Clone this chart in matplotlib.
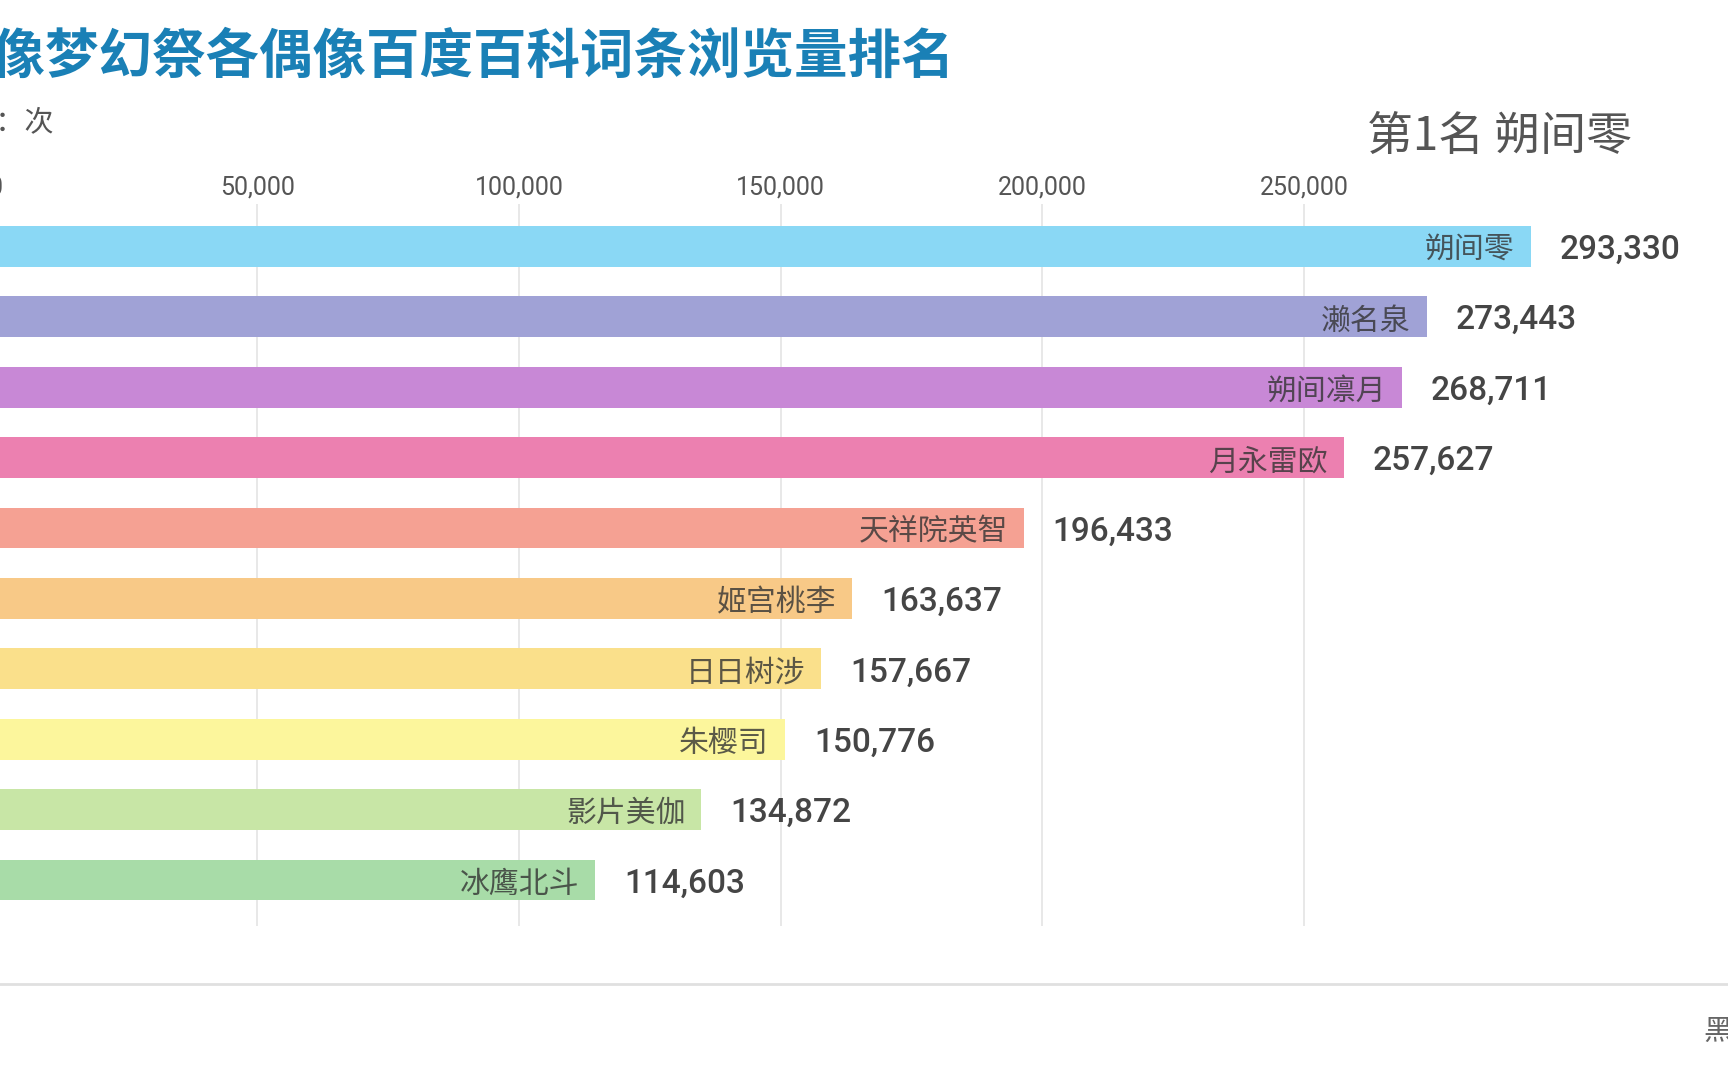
import numpy as np
import matplotlib
matplotlib.use("Agg")
import matplotlib.pyplot as plt
from matplotlib.lines import Line2D

names = ["朔间零", "濑名泉", "朔间凛月", "月永雷欧", "天祥院英智",
         "姬宫桃李", "日日树涉", "朱樱司", "影片美伽", "冰鹰北斗"]
views = [293330, 273443, 268711, 257627, 196433,
         163637, 157667, 150776, 134872, 114603]
tick_values = [0, 50000, 100000, 150000, 200000, 250000]
tick_labels = [f"{v:,}" for v in tick_values]
title = "偶像梦幻祭各偶像百度百科词条浏览量排名"
unit = "单位：次"
footer = "黑"

bar_colors = ["#8ad8f5", "#a0a2d6", "#c888d6", "#ec80b0", "#f5a193",
              "#f8c987", "#fae08b", "#fcf69c", "#c8e6a6", "#a8dca8"]

W, H = 1728, 1080


def main():
    plt.rcParams['font.family'] = ['Noto Sans CJK SC', 'DejaVu Sans']
    fig = plt.figure(figsize=(W / 100, H / 100), dpi=100)
    fig.patch.set_facecolor("white")

    # the frame is cropped: x=0 sits just left of the picture edge
    x0_px = -4.4
    px_per_unit = 261.67 / 50000
    xmax = 330000
    top_px, bot_px = 204, 926
    ax = fig.add_axes([x0_px / W, 1 - bot_px / H,
                       xmax * px_per_unit / W, (bot_px - top_px) / H])

    y = np.arange(len(names))
    ax.barh(y, views, height=0.58, color=bar_colors, zorder=2)
    ax.set_xlim(0, xmax)
    ax.set_ylim(9.653, -0.602)

    for i, (name, v) in enumerate(zip(names, views)):
        ax.annotate(name, (v, i), xytext=(-11.5, -3), textcoords="offset points",
                    ha="right", va="center", fontsize=21.5, color="#333333",
                    alpha=0.8, zorder=3)
        ax.annotate(f"{v:,}", (v, i), xytext=(21, 0), textcoords="offset points",
                    ha="left", va="center_baseline", fontsize=24,
                    family="Roboto", fontweight="medium", color="#454545",
                    zorder=3)

    ax.xaxis.tick_top()
    ax.set_xticks(tick_values, labels=tick_labels, family="Roboto",
                  fontsize=18, color="#555555")
    ax.tick_params(axis="x", length=0, pad=3)
    ax.tick_params(axis="y", left=False, labelleft=False)
    ax.grid(axis="x", color="#e6e6e6", lw=1.3)
    ax.set_axisbelow(True)
    for s in ax.spines.values():
        s.set_visible(False)

    # header texts
    fig.text(955 / W, 1 - 57 / H, title, ha="right", va="center",
             fontsize=38.5, fontweight="bold", color="#1a80b6")
    fig.text(54 / W, 1 - 123 / H, unit, ha="right", va="center",
             fontsize=21, color="#555555")
    fig.text(1632 / W, 1 - 137 / H, f"第1名 {names[0]}", ha="right",
             va="center", fontsize=33, color="#555555")

    # bottom rule and cut-off signature
    fig.add_artist(Line2D([0, 1], [1 - 983.5 / H] * 2, transform=fig.transFigure,
                          color="#e0e0e0", lw=2))
    fig.text(1703 / W, 1 - 1032 / H, footer, ha="left", va="center",
             fontsize=21, color="#666666")

    fig.savefig("out.png", dpi=100, facecolor="white")


if __name__ == "__main__":
    main()
